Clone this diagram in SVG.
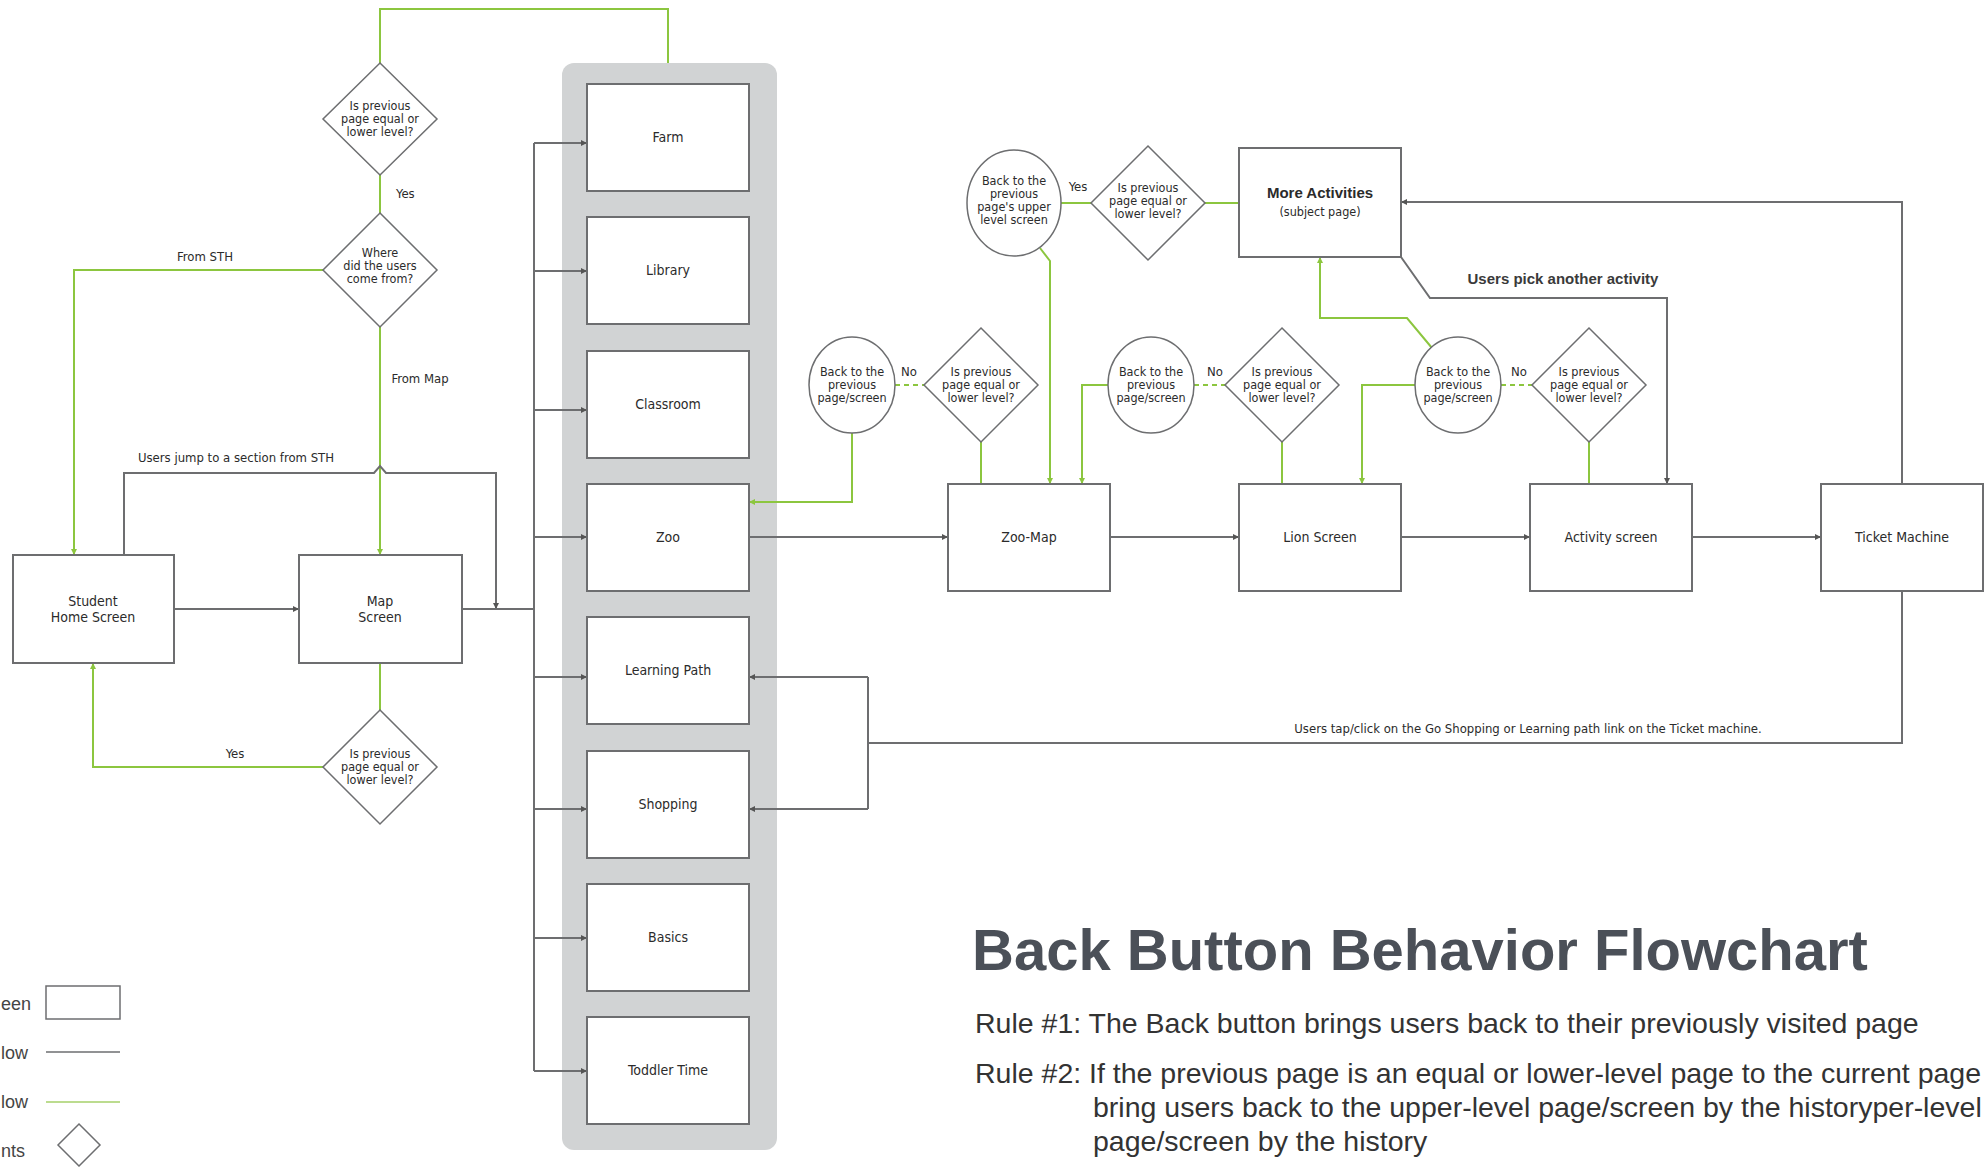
<svg xmlns="http://www.w3.org/2000/svg" width="1988" height="1167" viewBox="0 0 1988 1167">
<style>
.box{fill:#fff;stroke:#6d6e70;stroke-width:2}
.dia{fill:#fff;stroke:#6d6e70;stroke-width:1.5}
.cir{fill:#fff;stroke:#6d6e70;stroke-width:1.5}
.g{fill:none;stroke:#8cc63f;stroke-width:2}
.k{fill:none;stroke:#6d6e70;stroke-width:2}
.ga{marker-end:url(#ag)}
.ka{marker-end:url(#ak)}
.dash{stroke-dasharray:5 4}
text{font-family:"Liberation Sans Narrow","DejaVu Sans Condensed","Liberation Sans",sans-serif;fill:#2b2b2b}
.lb{font-size:14px;text-anchor:middle}
.sm{font-size:12.5px;text-anchor:middle}
.cl{font-size:13px}
.lg{font-family:"Liberation Sans",sans-serif;font-size:18px;fill:#444}
.rule{font-family:"Liberation Sans",sans-serif;font-size:28.5px;fill:#333}
</style>
<defs>
<marker id="ak" viewBox="0 0 10 10" refX="10" refY="5" markerWidth="6" markerHeight="6" orient="auto" markerUnits="userSpaceOnUse">
<path d="M0,0 L10,5 L0,10 z" fill="#555"/>
</marker>
<marker id="ag" viewBox="0 0 10 10" refX="10" refY="5" markerWidth="6" markerHeight="6" orient="auto" markerUnits="userSpaceOnUse">
<path d="M0,0 L10,5 L0,10 z" fill="#8cc63f"/>
</marker>
</defs>
<rect width="1988" height="1167" fill="#fff"/>

<rect id="panel" x="562" y="63" width="215" height="1087" rx="12" fill="#d1d3d4"/>

<g id="connectors">
<path class="g" d="M380,63 V9 H668 V63"/>
<line class="g" x1="380" y1="175" x2="380" y2="213"/>
<path class="g ga" d="M323,270 H74 V555"/>
<path class="g ga" d="M380,327 V555"/>
<path class="k ka" d="M124,555 V473 H374 L380,466 L386,473 H496 V609"/>
<line class="k ka" x1="174" y1="609" x2="299" y2="609"/>
<line class="k" x1="462" y1="609" x2="534" y2="609"/>
<line class="g" x1="380" y1="663" x2="380" y2="710"/>
<path class="g ga" d="M323,767 H93 V663"/>
<line class="k" x1="534" y1="143" x2="534" y2="1071"/>
<line class="k ka" x1="534" y1="143" x2="587" y2="143"/>
<line class="k ka" x1="534" y1="271" x2="587" y2="271"/>
<line class="k ka" x1="534" y1="410" x2="587" y2="410"/>
<line class="k ka" x1="534" y1="537" x2="587" y2="537"/>
<line class="k ka" x1="534" y1="677" x2="587" y2="677"/>
<line class="k ka" x1="534" y1="809" x2="587" y2="809"/>
<line class="k ka" x1="534" y1="938" x2="587" y2="938"/>
<line class="k ka" x1="534" y1="1071" x2="587" y2="1071"/>
<line class="k ka" x1="749" y1="537" x2="948" y2="537"/>
<line class="k ka" x1="1110" y1="537" x2="1239" y2="537"/>
<line class="k ka" x1="1401" y1="537" x2="1530" y2="537"/>
<line class="k ka" x1="1692" y1="537" x2="1821" y2="537"/>
<path class="k ka" d="M1902,484 V202 H1401"/>
<path class="k" d="M1902,591 V743 H868"/>
<line class="k" x1="868" y1="677" x2="868" y2="809"/>
<line class="k ka" x1="868" y1="677" x2="749" y2="677"/>
<line class="k ka" x1="868" y1="809" x2="749" y2="809"/>
<path class="k ka" d="M1401,257 L1430,298 H1667 V484"/>
<line class="g" x1="1061" y1="203" x2="1091" y2="203"/>
<line class="g" x1="1205" y1="203" x2="1239" y2="203"/>
<path class="g ga" d="M1040,248 L1050,261 V484"/>
<line class="g dash" x1="895" y1="385" x2="924" y2="385"/>
<line class="g" x1="981" y1="442" x2="981" y2="484"/>
<path class="g ga" d="M852,433 V502 H749"/>
<line class="g dash" x1="1194" y1="385" x2="1225" y2="385"/>
<line class="g" x1="1282" y1="442" x2="1282" y2="484"/>
<path class="g ga" d="M1108,385 H1082 V484"/>
<line class="g dash" x1="1501" y1="385" x2="1532" y2="385"/>
<line class="g" x1="1589" y1="442" x2="1589" y2="484"/>
<path class="g ga" d="M1415,385 H1362 V484"/>
<path class="g ga" d="M1432,348 L1407,318 H1320 V257"/>
</g>

<g id="labels">
<text class="cl" x="396" y="198">Yes</text>
<text class="cl" x="205" y="261" text-anchor="middle">From STH</text>
<text class="cl" x="420" y="383" text-anchor="middle">From Map</text>
<text class="cl" x="236" y="462" text-anchor="middle">Users jump to a section from STH</text>
<text class="cl" x="235" y="758" text-anchor="middle">Yes</text>
<text class="cl" x="1078" y="191" text-anchor="middle">Yes</text>
<text class="cl" x="909" y="376" text-anchor="middle">No</text>
<text class="cl" x="1215" y="376" text-anchor="middle">No</text>
<text class="cl" x="1519" y="376" text-anchor="middle">No</text>
<text x="1563" y="284" text-anchor="middle" style="font-family:'Liberation Sans',sans-serif;font-size:15px;font-weight:bold;fill:#3a3a3a">Users pick another activity</text>
<text x="1528" y="733" text-anchor="middle" style="font-size:13px">Users tap/click on the Go Shopping or Learning path link on the Ticket machine.</text>
</g>

<g id="d-top">
<polygon class="dia" points="380,63 437,119 380,175 323,119"/>
<text class="sm" x="380" y="110">Is previous</text>
<text class="sm" x="380" y="123">page equal or</text>
<text class="sm" x="380" y="136">lower level?</text>
</g>
<g id="d-where">
<polygon class="dia" points="380,213 437,270 380,327 323,270"/>
<text class="sm" x="380" y="257">Where</text>
<text class="sm" x="380" y="270">did the users</text>
<text class="sm" x="380" y="283">come from?</text>
</g>
<g id="d-map">
<polygon class="dia" points="380,710 437,767 380,824 323,767"/>
<text class="sm" x="380" y="758">Is previous</text>
<text class="sm" x="380" y="771">page equal or</text>
<text class="sm" x="380" y="784">lower level?</text>
</g>

<g id="student-home">
<rect class="box" x="13" y="555" width="161" height="108"/>
<text class="lb" x="93" y="606">Student</text>
<text class="lb" x="93" y="622">Home Screen</text>
</g>
<g id="map-screen">
<rect class="box" x="299" y="555" width="163" height="108"/>
<text class="lb" x="380" y="606">Map</text>
<text class="lb" x="380" y="622">Screen</text>
</g>

<g id="farm"><rect class="box" x="587" y="84" width="162" height="107"/><text class="lb" x="668" y="142">Farm</text></g>
<g id="library"><rect class="box" x="587" y="217" width="162" height="107"/><text class="lb" x="668" y="275">Library</text></g>
<g id="classroom"><rect class="box" x="587" y="351" width="162" height="107"/><text class="lb" x="668" y="409">Classroom</text></g>
<g id="zoo"><rect class="box" x="587" y="484" width="162" height="107"/><text class="lb" x="668" y="542">Zoo</text></g>
<g id="learning-path"><rect class="box" x="587" y="617" width="162" height="107"/><text class="lb" x="668" y="675">Learning Path</text></g>
<g id="shopping"><rect class="box" x="587" y="751" width="162" height="107"/><text class="lb" x="668" y="809">Shopping</text></g>
<g id="basics"><rect class="box" x="587" y="884" width="162" height="107"/><text class="lb" x="668" y="942">Basics</text></g>
<g id="toddler-time"><rect class="box" x="587" y="1017" width="162" height="107"/><text class="lb" x="668" y="1075">Toddler Time</text></g>

<g id="zoo-map"><rect class="box" x="948" y="484" width="162" height="107"/><text class="lb" x="1029" y="542">Zoo-Map</text></g>
<g id="lion-screen"><rect class="box" x="1239" y="484" width="162" height="107"/><text class="lb" x="1320" y="542">Lion Screen</text></g>
<g id="activity-screen"><rect class="box" x="1530" y="484" width="162" height="107"/><text class="lb" x="1611" y="542">Activity screen</text></g>
<g id="ticket-machine"><rect class="box" x="1821" y="484" width="162" height="107"/><text class="lb" x="1902" y="542">Ticket Machine</text></g>
<g id="more-activities">
<rect class="box" x="1239" y="148" width="162" height="109"/>
<text x="1320" y="198" text-anchor="middle" style="font-family:'Liberation Sans',sans-serif;font-size:15px;font-weight:bold">More Activities</text>
<text class="sm" x="1320" y="216">(subject page)</text>
</g>

<g id="c-upper">
<ellipse class="cir" cx="1014" cy="203" rx="47" ry="53"/>
<text class="sm" x="1014" y="185">Back to the</text>
<text class="sm" x="1014" y="198">previous</text>
<text class="sm" x="1014" y="211">page's upper</text>
<text class="sm" x="1014" y="224">level screen</text>
</g>
<g id="d-upper">
<polygon class="dia" points="1148,146 1205,203 1148,260 1091,203"/>
<text class="sm" x="1148" y="192">Is previous</text>
<text class="sm" x="1148" y="205">page equal or</text>
<text class="sm" x="1148" y="218">lower level?</text>
</g>

<g id="c-zoo">
<ellipse class="cir" cx="852" cy="385" rx="43" ry="48"/>
<text class="sm" x="852" y="376">Back to the</text>
<text class="sm" x="852" y="389">previous</text>
<text class="sm" x="852" y="402">page/screen</text>
</g>
<g id="d-zoo">
<polygon class="dia" points="981,328 1038,385 981,442 924,385"/>
<text class="sm" x="981" y="376">Is previous</text>
<text class="sm" x="981" y="389">page equal or</text>
<text class="sm" x="981" y="402">lower level?</text>
</g>
<g id="c-zoomap">
<ellipse class="cir" cx="1151" cy="385" rx="43" ry="48"/>
<text class="sm" x="1151" y="376">Back to the</text>
<text class="sm" x="1151" y="389">previous</text>
<text class="sm" x="1151" y="402">page/screen</text>
</g>
<g id="d-lion">
<polygon class="dia" points="1282,328 1339,385 1282,442 1225,385"/>
<text class="sm" x="1282" y="376">Is previous</text>
<text class="sm" x="1282" y="389">page equal or</text>
<text class="sm" x="1282" y="402">lower level?</text>
</g>
<g id="c-lion">
<ellipse class="cir" cx="1458" cy="385" rx="43" ry="48"/>
<text class="sm" x="1458" y="376">Back to the</text>
<text class="sm" x="1458" y="389">previous</text>
<text class="sm" x="1458" y="402">page/screen</text>
</g>
<g id="d-activity">
<polygon class="dia" points="1589,328 1646,385 1589,442 1532,385"/>
<text class="sm" x="1589" y="376">Is previous</text>
<text class="sm" x="1589" y="389">page equal or</text>
<text class="sm" x="1589" y="402">lower level?</text>
</g>

<g id="legend">
<text class="lg" x="1" y="1010">een</text>
<rect x="46" y="986" width="74" height="33" fill="#fff" stroke="#6d6e70" stroke-width="1.5"/>
<text class="lg" x="1" y="1059">low</text>
<line x1="46" y1="1052" x2="120" y2="1052" stroke="#6d6e70" stroke-width="1.5"/>
<text class="lg" x="1" y="1108">low</text>
<line x1="46" y1="1102" x2="120" y2="1102" stroke="#a6d06a" stroke-width="1.5"/>
<text class="lg" x="1" y="1157">nts</text>
<polygon points="79,1124 100,1145 79,1166 58,1145" fill="#fff" stroke="#6d6e70" stroke-width="1.5"/>
</g>

<g id="title">
<text x="972" y="970" style="font-family:'Liberation Sans',sans-serif;font-size:58px;font-weight:bold;fill:#4b5058">Back Button Behavior Flowchart</text>
<text class="rule" x="975" y="1033">Rule #1: The Back button brings users back to their previously visited page</text>
<text class="rule" x="975" y="1083">Rule #2: If the previous page is an equal or lower-level page to the current page</text>
<text class="rule" x="1093" y="1117">bring users back to the upper-level page/screen by the historyper-level</text>
<text class="rule" x="1093" y="1151">page/screen by the history</text>
</g>
</svg>
